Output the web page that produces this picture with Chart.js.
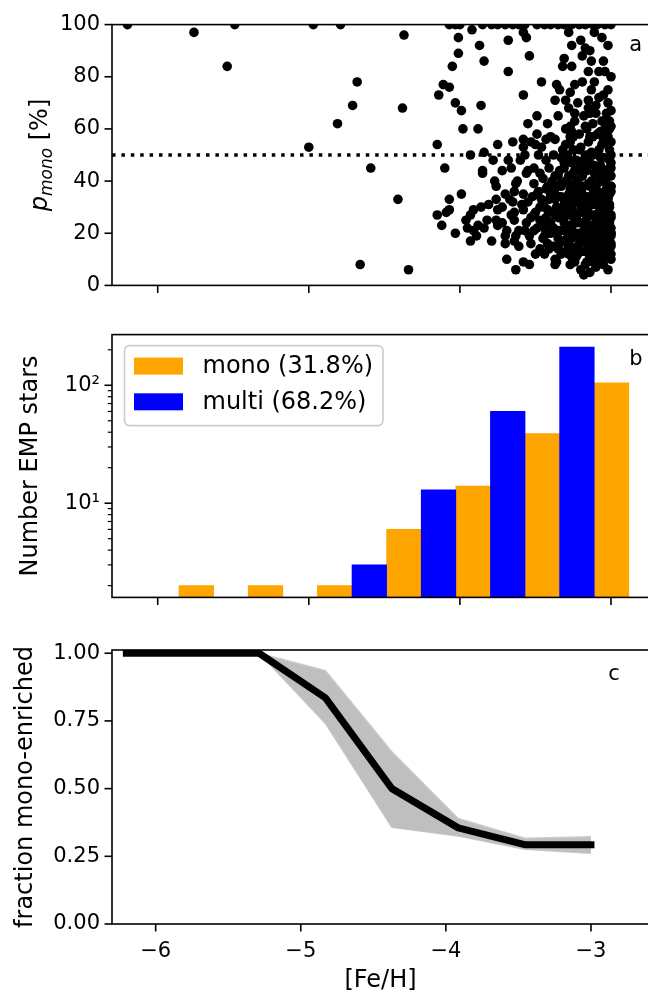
<!DOCTYPE html>
<html>
<head>
<meta charset="utf-8">
<script src="https://cdn.jsdelivr.net/npm/chart.js@4/dist/chart.umd.min.js"></script>
<style>
  body { margin: 0; background: #fff; overflow: hidden; }
  canvas { position: absolute; left: 0; }
</style>
</head>
<body>
<canvas id="pmonoChart" width="660" height="310" style="top:0px"></canvas>
<canvas id="histChart" width="660" height="312" style="top:310px"></canvas>
<canvas id="fracChart" width="660" height="374" style="top:622px"></canvas>
<script>
// ---- data ----
const xTicks = [-6, -5, -4, -3];
const pmonoTicks = [0, 20, 40, 60, 80, 100];
const countTicks = [2, 3, 4, 5, 6, 7, 8, 9, 10, 20, 30, 40, 50, 60, 70, 80, 90, 100, 200];
const countTickLabels = { 10: '10\u00b9', 100: '10\u00b2' };
const fracTicks = [0, 0.25, 0.5, 0.75, 1];

const pmonoXRange = [-6.3025, -2.7485];
const fracXRange = [-6.301, -2.600];
const monoThreshold = 50;

// panel a: [Fe/H] and p_mono of each star
const starFeH = [
  -6.20, -5.76, -5.49, -5.54, -4.97, -4.79, -4.37, -4.68, -4.71, -4.38,
  -4.81, -5.00, -4.59, -4.41, -4.66, -4.34,
  -4.07, -4.03, -4.00, -3.85, -3.79, -3.75, -3.70, -3.65, -3.61, -3.57,
  -3.49, -3.44, -3.40, -3.35, -3.31, -3.26, -3.21, -3.17, -3.12, -3.09,
  -3.04, -3.00,
  -3.92, -3.58, -3.28, -3.11, -4.01, -3.68, -3.56, -3.06, -3.87, -3.20,
  -3.17, -3.14, -4.01, -3.84, -3.54, -3.31, -3.32, -3.26, -3.13, -3.05,
  -4.05, -3.68, -3.15, -3.04, -3.00, -3.11, -3.19, -3.46, -3.36, -3.24,
  -4.11, -4.07, -3.34, -3.27, -3.02, -4.14, -3.58, -3.08, -3.15, -3.37,
  -3.30, -4.03, -3.86, -3.10, -3.99, -3.12, -3.00, -3.14, -3.24, -3.49,
  -3.35, -3.05, -3.01, -3.55, -3.42, -3.27, -3.17, -3.88, -3.98, -3.49,
  -3.26, -3.07, -3.40, -3.58, -3.65, -3.43, -3.37, -3.27, -3.14, -3.02,
  -3.75, -3.50, -3.46, -3.58, -4.15, -3.06, -3.32, -3.25, -3.21, -3.13,
  -3.84, -3.93, -3.57, -3.38, -3.43, -3.68, -3.78, -3.33, -3.18, -3.07,
  -3.00, -3.27, -4.10, -3.85, -3.51, -3.31, -3.24, -3.11, -3.02, -3.85,
  -3.56, -3.47, -3.37, -3.19, -3.77, -3.22, -3.05, -3.00, -3.14, -3.63,
  -3.51, -3.33, -3.26, -3.43, -3.37, -3.70, -3.64, -3.58, -3.49, -3.40,
  -3.28, -3.20, -3.10, -3.04, -3.02, -3.99, -4.07, -3.76, -3.65, -3.81,
  -3.72, -3.55, -3.46, -3.35, -3.31, -3.24, -3.17, -3.10, -3.05, -4.07,
  -4.09, -4.15, -3.91, -3.93, -3.75, -3.66, -3.58, -3.51, -3.42, -3.37,
  -3.33, -3.27, -3.20, -3.14, -3.07, -3.02, -3.96, -3.76, -3.72, -3.64,
  -3.56, -3.47, -3.40, -3.31, -3.24, -3.17, -3.10, -3.04, -3.00, -4.12,
  -3.88, -3.84, -3.91, -3.75, -3.69, -3.61, -3.51, -3.44, -3.36, -3.28,
  -3.21, -3.14, -3.07, -3.00, -4.03, -3.89, -3.63, -3.54, -3.44, -3.35,
  -3.26, -3.17, -3.10, -3.03, -3.93, -3.79, -3.70, -3.64, -3.53, -3.42,
  -3.37, -3.28, -3.22, -3.13, -3.05, -3.00, -3.41, -3.35, -3.28, -3.22,
  -3.12, -3.06, -3.00, -3.37, -3.37, -3.54, -3.17, -3.63, -3.18, -3.11,
  -3.30, -3.29, -3.27, -3.26, -3.25, -3.25, -3.23, -3.23, -3.22, -3.21,
  -3.20, -3.20, -3.19, -3.18, -3.17, -3.16, -3.16, -3.15, -3.15, -3.14,
  -3.13, -3.13, -3.12, -3.12, -3.11, -3.10, -3.10, -3.09, -3.09, -3.08,
  -3.08, -3.07, -3.07, -3.06, -3.06, -3.05, -3.05, -3.04, -3.04, -3.03,
  -3.03, -3.02, -3.02, -3.01, -3.01, -3.00, -3.00, -3.01, -3.01, -3.00,
  -3.00, -3.00, -3.01, -3.01, -3.03, -3.06, -3.09, -3.12, -3.15, -3.18,
  -3.21, -3.24, -3.27, -3.30, -3.29, -3.31, -3.32, -3.33, -3.34, -3.36,
  -3.38, -3.39, -3.41, -3.43, -3.45, -3.45, -3.47, -3.49, -3.50, -3.52,
  -3.53, -3.55, -3.57, -3.59, -3.61, -3.62, -3.64, -3.67, -3.70, -3.72,
  -3.24, -3.20, -3.10, -3.05, -3.14, -3.27, -3.33, -3.02, -3.05, -3.13,
  -3.22, -3.28, -3.08, -3.19, -3.26, -3.02, -3.01, -3.00, -3.01, -3.00,
  -3.03, -3.00, -3.01, -3.04, -3.07, -3.11, -3.14, -3.17, -3.20, -3.23,
  -3.26, -3.28, -3.31, -3.19, -3.22, -3.25, -3.28, -3.15, -3.12, -3.09,
  -3.06, -3.03, -3.11, -3.18, -3.24, -3.29, -3.34, -3.39, -3.44, -3.35,
  -3.31, -3.27, -3.23, -3.19, -3.15, -3.11, -3.07, -3.04, -3.00, -3.00,
  -3.13, -3.21, -3.26, -3.16, -3.09, -3.36, -3.41, -3.48, -3.53, -3.60,
  -3.66, -3.76, -3.82, -3.86, -3.95, -3.69, -3.58,
  -3.02, -3.04, -3.01, -3.03, -3.00, -3.02, -3.00, -3.03, -3.01, -3.00,
  -3.06, -3.08, -3.07, -3.09, -3.08, -3.10, -3.11, -3.12, -3.13, -3.14,
  -3.16, -3.17, -3.18, -3.19, -3.20, -3.21, -3.22, -3.23, -3.24, -3.25,
  -3.26, -3.27, -3.28, -3.29, -3.30, -3.31, -3.32, -3.33, -3.34, -3.35,
  -3.36, -3.37, -3.38, -3.40, -3.42, -3.44, -3.46, -3.48, -3.50, -3.47,
  -3.05, -3.08, -3.12, -3.16, -3.20, -3.25, -3.30, -3.04, -3.10, -3.15
];
const starPmono = [
  100, 97, 100, 84, 100, 100, 96, 78, 69, 68,
  62, 53, 45, 33, 8, 6,
  100, 100, 100, 100, 100, 100, 100, 100, 100, 100,
  100, 100, 100, 100, 100, 100, 100, 100, 100, 100,
  100, 100,
  98, 97, 97, 97, 95, 94, 95, 95, 92, 94,
  91, 90, 89, 86, 88, 87, 84, 84, 86, 86,
  84, 82, 82, 82, 80, 78, 78, 78, 77, 77,
  77, 76, 75, 74, 75, 73, 73, 72, 71, 71,
  71, 70, 69, 69, 67, 67, 67, 66, 66, 65,
  65, 63, 63, 62, 62, 61, 61, 60, 60, 58,
  59, 59, 57, 56, 55, 56, 56, 57, 57, 57,
  54, 54, 53, 53, 54, 54, 52, 52, 52, 51,
  51, 50, 50, 50, 48, 48, 48, 49, 48, 49,
  47, 48, 45, 44, 45, 45, 44, 46, 44, 43,
  43, 43, 42, 42, 40, 40, 40, 38, 38, 39,
  39, 38, 38, 37, 37, 35, 36, 35, 35, 35,
  35, 36, 37, 36, 34, 35, 33, 33, 32, 31,
  30, 32, 33, 34, 31, 32, 33, 32, 31, 29,
  28, 27, 29, 27, 29, 27, 29, 27, 29, 27,
  29, 27, 29, 27, 28, 26, 25, 25, 24, 25,
  24, 25, 24, 24, 25, 23, 24, 24, 22, 23,
  23, 22, 21, 23, 21, 21, 21, 22, 21, 21,
  20, 21, 20, 19, 20, 19, 19, 19, 19, 18,
  18, 18, 17, 18, 17, 17, 16, 17, 16, 16,
  15, 15, 15, 16, 15, 15, 14, 14, 12, 12,
  12, 10, 10, 10, 8, 8, 8, 6, 4, 10,
  40, 33, 23, 30, 14, 43, 26, 36, 19, 47,
  31, 13, 24, 38, 29, 16, 44, 22, 34, 11,
  27, 40, 19, 50, 31, 24, 14, 36, 45, 20,
  28, 12, 33, 40, 17, 26, 49, 21, 34, 13,
  29, 38, 18, 24, 31, 42, 12, 27, 35, 20,
  16, 45, 52, 60, 55, 63, 58, 62, 55, 65,
  58, 63, 55, 60, 50, 26, 17, 34, 44, 30,
  22, 40, 33, 26, 18, 41, 30, 22, 12, 34,
  26, 44, 21, 31, 15, 40, 28, 33, 19, 44,
  9, 6, 7, 8, 5, 8, 12, 70, 73, 75,
  70, 68, 82, 88, 92, 92, 30, 38, 23, 55,
  66, 61, 48, 44, 46, 43, 47, 50, 44, 48,
  47, 42, 47, 35, 32, 37, 29, 30, 35, 39,
  23, 37, 22, 21, 20, 18, 21, 15, 12, 26,
  33, 37, 40, 42, 39, 27, 25, 16, 20, 26,
  15, 16, 11, 9, 10, 38, 45, 50, 55, 48,
  45, 38, 25, 30, 22, 10, 9,
  6, 11, 14, 22, 27, 33, 36, 41, 45, 50,
  13, 17, 30, 24, 42, 34, 18, 9, 23, 32,
  26, 13, 45, 28, 17, 38, 24, 11, 34, 28,
  22, 15, 33, 40, 13, 21, 29, 39, 16, 42,
  9, 33, 28, 20, 38, 30, 24, 36, 28, 14,
  56, 52, 57, 60, 53, 57, 54, 60, 66, 68
];

// panel b: histogram bins (edges) and counts
const histEdges = [-6.088, -5.630, -5.172, -4.714, -4.256, -3.798, -3.340, -2.882];
const multiCounts = [0, 0, 0, 3, 13, 60, 211];
const monoCounts = [2, 2, 2, 6, 14, 39, 105];

// panel c: fraction mono-enriched with its spread
const fracFeH = [-6.202, -5.745, -5.287, -4.830, -4.372, -3.915, -3.457, -3.000];
const fracMono = [1.0, 1.0, 1.0, 0.835, 0.500, 0.355, 0.293, 0.293];
const fracHigh = [1.0, 1.0, 1.0, 0.936, 0.636, 0.390, 0.317, 0.322];
const fracLow = [1.0, 1.0, 1.0, 0.741, 0.357, 0.325, 0.276, 0.261];

// ---- shared settings ----
Chart.defaults.font.family = "'DejaVu Sans', sans-serif";
Chart.defaults.color = '#000';
Chart.defaults.animation = false;
Chart.defaults.events = [];

const tickFont = { size: 21 };
const labelFont = { size: 24 };

function minusLabel(v) {
  return v < 0 ? '\u2212' + Math.abs(v) : String(v);
}

// matplotlib style frame, outward ticks, panel letter and extras
function panelDecor(cfg) {
  return {
    id: 'panelDecor',
    afterDraw(chart) {
      const ctx = chart.ctx;
      const a = chart.chartArea;
      const xs = chart.scales.x, ys = chart.scales.y;
      ctx.save();
      ctx.strokeStyle = '#000';
      ctx.lineWidth = 1.6;
      ctx.strokeRect(a.left, a.top, a.right - a.left, a.bottom - a.top);

      ctx.beginPath();
      xs.ticks.forEach(t => {
        const px = xs.getPixelForValue(t.value);
        ctx.moveTo(px, a.bottom);
        ctx.lineTo(px, a.bottom + 7.5);
      });
      ctx.stroke();

      ys.ticks.forEach(t => {
        const py = ys.getPixelForValue(t.value);
        const minor = ys.type === 'logarithmic' && Math.abs(Math.log10(t.value) % 1) > 1e-9;
        ctx.lineWidth = minor ? 1.2 : 1.6;
        ctx.beginPath();
        ctx.moveTo(a.left - (minor ? 4.2 : 7.5), py);
        ctx.lineTo(a.left, py);
        ctx.stroke();
      });

      // panel letter
      ctx.fillStyle = '#000';
      ctx.font = "21px 'DejaVu Sans'";
      ctx.textBaseline = 'alphabetic';
      ctx.textAlign = 'left';
      ctx.fillText(cfg.letter, xs.getPixelForValue(cfg.letterAt[0]), ys.getPixelForValue(cfg.letterAt[1]));

      if (cfg.pmonoTitle) {
        // y label with italic p and subscript "mono"
        ctx.translate(47, (a.top + a.bottom) / 2);
        ctx.rotate(-Math.PI / 2);
        ctx.font = "italic 24px 'DejaVu Sans'";
        const wP = ctx.measureText('p').width;
        ctx.font = "italic 17px 'DejaVu Sans'";
        const wSub = ctx.measureText('mono').width;
        ctx.font = "24px 'DejaVu Sans'";
        const wRest = ctx.measureText(' [%]').width;
        let x0 = -(wP + wSub + wRest) / 2;
        ctx.font = "italic 24px 'DejaVu Sans'";
        ctx.fillText('p', x0, 0);
        ctx.font = "italic 17px 'DejaVu Sans'";
        ctx.fillText('mono', x0 + wP, 5);
        ctx.font = "24px 'DejaVu Sans'";
        ctx.fillText(' [%]', x0 + wP + wSub, 0);
      }

      if (cfg.legendOrder) {
        // legend box in the upper left corner
        const bx = a.left + 12.5, by = a.top + 11, bw = 258.5, bh = 80;
        ctx.lineWidth = 1.6;
        ctx.strokeStyle = '#cccccc';
        ctx.fillStyle = 'rgba(255,255,255,0.8)';
        ctx.beginPath();
        ctx.roundRect(bx, by, bw, bh, 5);
        ctx.fill();
        ctx.stroke();
        ctx.font = "24px 'DejaVu Sans'";
        ctx.textBaseline = 'middle';
        cfg.legendOrder.forEach((di, row) => {
          const ds = chart.data.datasets[di];
          const cy = by + 20.5 + row * 35.7;
          ctx.fillStyle = ds.backgroundColor;
          ctx.fillRect(bx + 9.5, cy - 8.5, 49, 17);
          ctx.fillStyle = '#000';
          ctx.fillText(ds.label, bx + 78, cy + 1);
        });
      }
      ctx.restore();
    }
  };
}

function hiddenX(range) {
  return {
    type: 'linear', min: range[0], max: range[1], offset: false,
    afterBuildTicks: s => { s.ticks = xTicks.map(v => ({ value: v })); },
    ticks: { display: false },
    grid: { display: false, drawTicks: false, offset: false },
    border: { display: false }
  };
}

// ---- panel a: p_mono scatter ----
new Chart(document.getElementById('pmonoChart'), {
  type: 'scatter',
  data: {
    datasets: [
      {
        data: starFeH.map((x, i) => ({ x: x, y: starPmono[i] })),
        pointRadius: 4.8,
        pointBackgroundColor: '#000',
        pointBorderWidth: 0,
        clip: 0
      },
      {
        type: 'line',
        data: [{ x: pmonoXRange[0], y: monoThreshold }, { x: pmonoXRange[1], y: monoThreshold }],
        borderColor: '#000',
        borderWidth: 3.5,
        borderDash: [3.5, 5.9],
        borderCapStyle: 'butt',
        pointRadius: 0,
        clip: 0
      }
    ]
  },
  options: {
    responsive: false,
    devicePixelRatio: 1,
    layout: { padding: { top: 18, right: 11, left: 0, bottom: 0 } },
    plugins: { legend: { display: false }, tooltip: { enabled: false } },
    scales: {
      x: Object.assign(hiddenX(pmonoXRange), { afterFit: s => { s.height = 18; } }),
      y: {
        min: 0, max: 100,
        afterBuildTicks: s => { s.ticks = pmonoTicks.map(v => ({ value: v })); },
        ticks: { font: tickFont, padding: 12, autoSkip: false },
        grid: { display: false, drawTicks: false },
        border: { display: false },
        afterFit: s => { s.width = 112; }
      }
    }
  },
  plugins: [panelDecor({ letter: 'a', letterAt: [-2.88, 90], pmonoTitle: true })]
});

// ---- panel b: histogram ----
function barPoints(counts, quarter) {
  const pts = [];
  counts.forEach((c, i) => {
    const w = histEdges[i + 1] - histEdges[i];
    if (c > 0) pts.push({ x: histEdges[i] + w * quarter, y: c });
  });
  return pts;
}

new Chart(document.getElementById('histChart'), {
  type: 'bar',
  data: {
    datasets: [
      { label: 'multi (68.2%)', data: barPoints(multiCounts, 0.25), backgroundColor: '#0000ff' },
      { label: 'mono (31.8%)', data: barPoints(monoCounts, 0.75), backgroundColor: '#ffa500' }
    ]
  },
  options: {
    responsive: false,
    devicePixelRatio: 1,
    layout: { padding: { top: 24, right: 11, left: 0, bottom: 0 } },
    plugins: { legend: { display: false }, tooltip: { enabled: false } },
    datasets: { bar: { grouped: false, barPercentage: 1, categoryPercentage: 1, borderWidth: 0 } },
    scales: {
      x: Object.assign(hiddenX(pmonoXRange), { afterFit: s => { s.height = 14.7; } }),
      y: {
        type: 'logarithmic', min: 1.59, max: 269,
        afterBuildTicks: s => { s.ticks = countTicks.map(v => ({ value: v })); },
        ticks: { font: tickFont, padding: 12, autoSkip: false, callback: v => countTickLabels[v] || '' },
        grid: { display: false, drawTicks: false },
        border: { display: false },
        title: { display: true, text: 'Number EMP stars', font: labelFont, padding: { top: 16.5, bottom: 0 } },
        afterFit: s => { s.width = 112; }
      }
    }
  },
  plugins: [panelDecor({ letter: 'b', letterAt: [-2.88, 150], legendOrder: [1, 0] })]
});

// ---- panel c: fraction mono-enriched ----
const xy = (ys) => fracFeH.map((x, i) => ({ x: x, y: ys[i] }));

new Chart(document.getElementById('fracChart'), {
  type: 'line',
  data: {
    datasets: [
      {
        data: xy(fracMono),
        borderColor: '#000', borderWidth: 7,
        borderCapStyle: 'square', borderJoinStyle: 'round',
        pointRadius: 0, fill: false
      },
      {
        data: xy(fracHigh),
        borderColor: '#cbcbcb', borderWidth: 1.5,
        backgroundColor: '#bfbfbf',
        pointRadius: 0, fill: '+1'
      },
      {
        data: xy(fracLow),
        borderColor: '#cbcbcb', borderWidth: 1.5,
        pointRadius: 0, fill: false
      }
    ]
  },
  options: {
    responsive: false,
    devicePixelRatio: 1,
    layout: { padding: { top: 28, right: 11, left: 0, bottom: 0 } },
    plugins: { legend: { display: false }, tooltip: { enabled: false } },
    scales: {
      x: {
        type: 'linear', min: fracXRange[0], max: fracXRange[1],
        afterBuildTicks: s => { s.ticks = xTicks.map(v => ({ value: v })); },
        ticks: { font: tickFont, padding: 15, autoSkip: false, maxRotation: 0, callback: v => minusLabel(v) },
        grid: { display: false, drawTicks: false },
        border: { display: false },
        title: { display: true, text: '[Fe/H]', font: labelFont, padding: { top: 0, bottom: 1 } },
        afterFit: s => { s.height = 72; }
      },
      y: {
        min: 0, max: 1.012,
        afterBuildTicks: s => { s.ticks = fracTicks.map(v => ({ value: v })); },
        ticks: { font: tickFont, padding: 12, autoSkip: false, callback: v => v.toFixed(2) },
        grid: { display: false, drawTicks: false },
        border: { display: false },
        title: { display: true, text: 'fraction mono-enriched', font: labelFont, padding: { top: 11.5, bottom: 0 } },
        afterFit: s => { s.width = 112; }
      }
    }
  },
  plugins: [panelDecor({ letter: 'c', letterAt: [-2.88, 0.90] })]
});
</script>
</body>
</html>
